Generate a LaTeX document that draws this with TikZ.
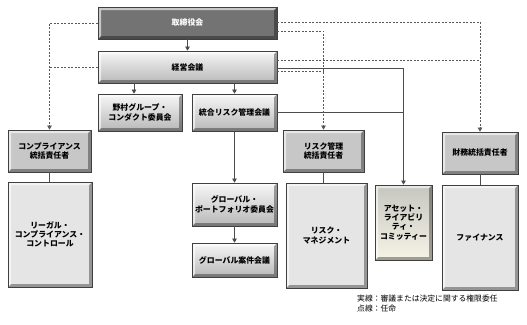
\documentclass[tikz,border=0pt]{standalone}
\usepackage{fontspec}
\newfontfamily\jp{Noto Sans CJK JP}
\usetikzlibrary{arrows.meta}
\definecolor{alctop}{RGB}{198,198,192}
\definecolor{alcbot}{RGB}{246,244,230}
\tikzset{
  bevel/.style={path picture={
    \fill[black,opacity=.35] (path picture bounding box.south west) -- (path picture bounding box.south east) -- (path picture bounding box.north east)
      -- ([shift={(-3pt,-3pt)}]path picture bounding box.north east) -- ([shift={(-3pt,3pt)}]path picture bounding box.south east)
      -- ([shift={(3pt,3pt)}]path picture bounding box.south west) -- cycle;
    \fill[white,opacity=.6] (path picture bounding box.south west) -- (path picture bounding box.north west) -- (path picture bounding box.north east)
      -- ([shift={(-3pt,-3pt)}]path picture bounding box.north east) -- ([shift={(3pt,-3pt)}]path picture bounding box.north west)
      -- ([shift={(3pt,3pt)}]path picture bounding box.south west) -- cycle;
  }},
  box/.style={draw=black!75, line width=0.7pt, align=center, inner sep=1pt,
    font=\jp\bfseries\fontsize{7.9}{9.2}\selectfont, bevel},
  grad/.style={box, top color=black!3, bottom color=black!28},
  dark/.style={box, fill=black!55, text=white},
  head/.style={box, fill=black!22},
  tall/.style={box, fill=black!10},
  cream/.style={box, top color=alctop, bottom color=alcbot},
  ln/.style={draw=black!70, line width=0.6pt},
  arr/.style={ln, -{Triangle[length=4pt,width=4.5pt]}},
  dsh/.style={draw=black!65, line width=0.6pt, dash pattern=on 2pt off 1.5pt},
}
\begin{document}
\begin{tikzpicture}[x=1pt,y=-1pt]
\useasboundingbox[fill=white] (0,0) rectangle (527,324);
\node[dark, minimum width=179pt, minimum height=32pt] (bod) at (187.5,23) {取締役会};
\node[grad, minimum width=179pt, minimum height=32pt] (mgmt) at (187.5,67) {経営会議};
\node[grad, minimum width=84pt, minimum height=37pt] (conduct) at (140,112.5) {野村グループ・\\コンダクト委員会};
\node[grad, minimum width=85pt, minimum height=37pt] (irm) at (234.5,112.5) {統合リスク管理会議};
\node[head, minimum width=83pt, minimum height=42pt] (comp) at (49.5,151) {コンプライアンス\\統括責任者};
\node[tall, minimum width=84pt, minimum height=105pt] (legal) at (50,234.5) {リーガル・\\コンプライアンス・\\コントロール};
\node[grad, minimum width=85pt, minimum height=43pt] (gpc) at (234.5,204.5) {グローバル・\\ポートフォリオ委員会};
\node[grad, minimum width=85pt, minimum height=34pt] (gdc) at (234.5,260) {グローバル案件会議};
\node[head, minimum width=81pt, minimum height=42pt] (rmo) at (323.5,151) {リスク管理\\統括責任者};
\node[head, minimum width=76pt, minimum height=42pt] (cfo) at (480,153) {財務統括責任者};
\node[tall, minimum width=81pt, minimum height=105pt] (rm) at (326.5,235.5) {リスク・\\マネジメント};
\node[cream, minimum width=57pt, minimum height=75pt] (alc) at (403.5,222.5) {アセット・\\ライアビリ\\ティ・\\コミッティー};
\node[tall, minimum width=76pt, minimum height=105pt] (fin) at (480,237.5) {ファイナンス};
\node[anchor=north west, align=left, inner sep=0pt, font=\jp\fontsize{7.8}{10}\selectfont] (legend) at (357,295) {実線：審議または決定に関する権限委任\\点線：任命};
% solid arrows
\draw[arr] (bod) -- (mgmt);
\draw[arr] ([xshift=-6pt]conduct.north |- mgmt.south) -- ([xshift=-6pt]conduct.north);
\draw[arr] (mgmt.south -| irm.north) -- (irm.north);
\draw[arr] (irm) -- (gpc);
\draw[arr] (gpc) -- (gdc);
\draw[arr] ([yshift=-1pt]mgmt.east) -| (alc.north);
\draw[ln] (irm.east) -- (irm.east -| alc.north);
% plain links
\draw[ln] (comp.south) -- (comp.south |- legal.north);
\draw[ln] (rmo.south) -- (rmo.south |- rm.north);
\draw[ln] (cfo.south) -- (fin.north);
% dashed appointments
\draw[dsh, -{Triangle[length=4pt,width=4.5pt]}] (bod.west) -| (comp.north);
\draw[dsh] (mgmt.west) -- (mgmt.west -| comp.north);
\draw[dsh, -{Triangle[length=4pt,width=4.5pt]}] ([yshift=1pt]bod.east) -| (cfo.north);
\draw[dsh] ([yshift=7pt]mgmt.east) -- ([yshift=7pt]mgmt.east -| cfo.north);
\draw[dsh, -{Triangle[length=4pt,width=4.5pt]}] ([yshift=-8pt]bod.east) -| (rmo.north);
\draw[dsh] ([yshift=-4pt]mgmt.east) -- ([yshift=-4pt]mgmt.east -| rmo.north);
\end{tikzpicture}
\end{document}
